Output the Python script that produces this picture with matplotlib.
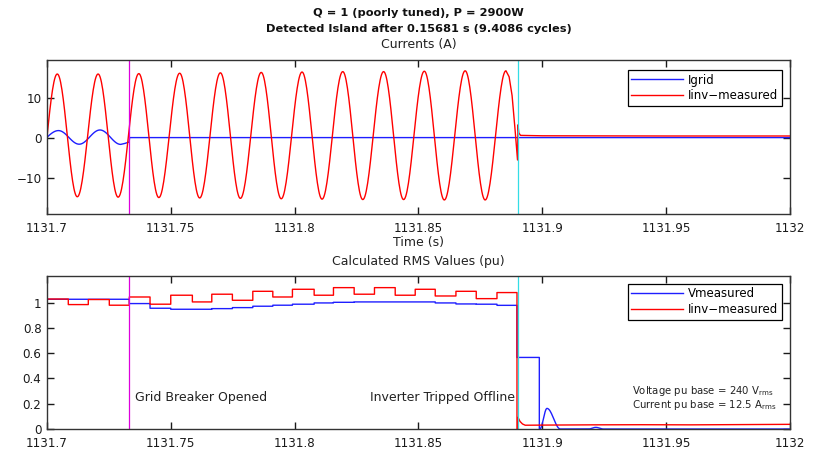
import numpy as np
import matplotlib
matplotlib.use("Agg")
import matplotlib.pyplot as plt

plt.rcParams['font.family'] = ['DejaVu Sans']

# ---------------- event times (s) ----------------
t_breaker = 1131.73325          # grid breaker opened
t_detect = 1131.89006           # island detected (breaker + 0.15681 s)

# ---------------- axis ticks ----------------
time_ticks = [1131.7, 1131.75, 1131.8, 1131.85, 1131.9, 1131.95, 1132.0]
time_labels = ["1131.7", "1131.75", "1131.8", "1131.85", "1131.9", "1131.95", "1132"]
cur_ticks = [-10, 0, 10]
rms_ticks = [0, 0.2, 0.4, 0.6, 0.8, 1.0]
rms_labels = ["0", "0.2", "0.4", "0.6", "0.8", "1"]

# ---------------- currents (A): inverter current extrema ----------------
iinv_ext_t = [1131.69596, 1131.70416, 1131.71224, 1131.72065, 1131.72873, 1131.73709,
              1131.74517, 1131.75358, 1131.76166, 1131.77002, 1131.77810, 1131.78651,
              1131.79459, 1131.80299, 1131.81107, 1131.81943, 1131.82752, 1131.83592,
              1131.84400, 1131.85236, 1131.86044, 1131.86885, 1131.87693, 1131.88533]
iinv_ext_v = [-14.8, 15.9, -14.8, 15.9, -14.9, 16.0,
              -15.0, 16.1, -15.1, 16.2, -15.2, 16.3,
              -15.3, 16.4, -15.4, 16.5, -15.5, 16.5,
              -15.5, 16.6, -15.6, 16.7, -15.6, 16.7]
# inverter current after its last peak (trip transient and residual)
iinv_tail_t = [1131.8866, 1131.8878, 1131.8890, 1131.8900, 1131.8902, 1131.8905,
               1131.8912, 1131.9000, 1131.9500, 1132.0]
iinv_tail_v = [15.2, 10.5, 2.0, -5.6, 3.2, 1.2, 0.55, 0.45, 0.4, 0.4]

# grid current extrema before the breaker opens
igrid_ext_t = [1131.69535, 1131.70465, 1131.71301, 1131.72141, 1131.72978]
igrid_ext_v = [-1.6, 1.75, -1.65, 1.9, -1.7]
igrid_tail_t = [1131.7315, 1131.7332, 1131.73335, 1132.0]
igrid_tail_v = [-1.45, -1.1, 0.0, 0.0]

# ---------------- half-cycle RMS values (pu) ----------------
rms_edges = [1131.7, 1131.70861, 1131.71669, 1131.72517, 1131.73325, 1131.74162,
             1131.74998, 1131.75871, 1131.76655, 1131.77487, 1131.78311, 1131.79119,
             1131.79911, 1131.80788, 1131.81568, 1131.82404, 1131.83224, 1131.84061,
             1131.84869, 1131.85677, 1131.86513, 1131.87333, 1131.88170, 1131.88978]
iinv_rms = [1.028, 0.984, 1.024, 0.979, 1.044, 0.987, 1.058, 1.005,
            1.066, 1.018, 1.089, 1.044, 1.105, 1.058, 1.118, 1.066,
            1.118, 1.058, 1.105, 1.052, 1.089, 1.031, 1.079]
vmeas_rms = [1.026, 1.026, 1.026, 1.026, 0.992, 0.955, 0.947, 0.947,
             0.952, 0.960, 0.971, 0.979, 0.987, 0.997, 1.002, 1.005,
             1.005, 1.005, 1.005, 0.997, 0.989, 0.987, 0.978]

# voltage RMS after the inverter trips
vmeas_tail_t = [1131.88978, 1131.8988, 1131.8988]
vmeas_tail_v = [0.566, 0.566, 0.0]
vmeas_bump_t = [1131.8990, 1131.9019, 1131.9073, 1131.9186, 1131.9216, 1131.9247]
vmeas_bump_v = [0.0, 0.163, 0.0, 0.0, 0.013, 0.0]
vmeas_end_t = [1132.0]
vmeas_end_v = [0.0]

# current RMS after the inverter trips
iinv_rms_tail_t = [1131.88978, 1131.8901, 1131.8902, 1131.8910, 1131.8920, 1131.8931,
                   1131.9000, 1131.9200, 1131.9400, 1131.9600, 1131.9800, 1132.0]
iinv_rms_tail_v = [0.0, 0.0, 0.092, 0.060, 0.040, 0.030,
                   0.031, 0.033, 0.034, 0.033, 0.035, 0.037]


def wave_through(ts, vs, n=30):
    """Smooth curve passing through successive extrema with half-cosine arcs."""
    xs, ys = [], []
    for i in range(len(ts) - 1):
        t0, t1 = ts[i], ts[i + 1]
        v0, v1 = vs[i], vs[i + 1]
        ph = np.linspace(0, np.pi, n, endpoint=False)
        xs.append(t0 + (t1 - t0) * ph / np.pi)
        ys.append((v0 + v1) / 2 + (v0 - v1) / 2 * np.cos(ph))
    xs.append([ts[-1]])
    ys.append([vs[-1]])
    return np.concatenate(xs), np.concatenate(ys)


def steps(edges, vals):
    x = np.repeat(np.asarray(edges), 2)[1:-1]
    y = np.repeat(np.asarray(vals), 2)
    return x, y


red = '#ff0000'
blue = '#1e1eff'
magenta = '#dd00dd'
cyan = '#33dde6'

fig = plt.figure(figsize=(8.21, 4.49), dpi=100)
ax1 = fig.add_axes([0.0572, 0.5234, 0.905, 0.343])
ax2 = fig.add_axes([0.0572, 0.0445, 0.905, 0.3408])

# ---- currents ----
gx, gy = wave_through(igrid_ext_t, igrid_ext_v)
gx = np.concatenate([gx, igrid_tail_t])
gy = np.concatenate([gy, igrid_tail_v])
ix, iy = wave_through(iinv_ext_t, iinv_ext_v)
ix = np.concatenate([ix, iinv_tail_t])
iy = np.concatenate([iy, iinv_tail_v])

ax1.plot(gx, gy, color=blue, lw=1.0, label='Igrid')
ax1.plot(ix, iy, color=red, lw=1.0, label='Iinv\u2212measured')
ax1.axvline(t_breaker, color=magenta, lw=0.9)
ax1.axvline(t_detect, color=cyan, lw=0.9)
ax1.set_xlim(1131.7, 1132.0)
ax1.set_ylim(-19.1, 19.4)
ax1.set_yticks(cur_ticks)
ax1.set_xticks(time_ticks)
ax1.set_xticklabels(time_labels)

# ---- RMS values ----
sx, sy = steps(rms_edges, vmeas_rms)
bx, by = wave_through(vmeas_bump_t, vmeas_bump_v)
vx = np.concatenate([sx, vmeas_tail_t, bx, vmeas_end_t])
vy = np.concatenate([sy, vmeas_tail_v, by, vmeas_end_v])
rx, ry = steps(rms_edges, iinv_rms)
rx = np.concatenate([rx, iinv_rms_tail_t])
ry = np.concatenate([ry, iinv_rms_tail_v])

ax2.plot(vx, vy, color=blue, lw=1.0, label='Vmeasured')
ax2.plot(rx, ry, color=red, lw=1.0, label='Iinv\u2212measured')
ax2.axvline(t_breaker, color=magenta, lw=0.9)
ax2.axvline(t_detect, color=cyan, lw=0.9)
ax2.set_xlim(1131.7, 1132.0)
ax2.set_ylim(0, 1.21)
ax2.set_yticks(rms_ticks)
ax2.set_yticklabels(rms_labels)
ax2.set_xticks(time_ticks)
ax2.set_xticklabels(time_labels)

for ax in (ax1, ax2):
    ax.tick_params(direction='in', length=5, width=1.0, top=True, right=True,
                   labelsize=8.6, colors='#1a1a1a')
    ax.tick_params(axis='y', pad=4)
    ax.tick_params(axis='x', pad=5.5)
    for s in ax.spines.values():
        s.set_color('#333333')
        s.set_linewidth(1.0)

leg_kw = dict(loc='upper right', fontsize=8.5, frameon=True, fancybox=False,
              edgecolor='black', framealpha=1.0, handlelength=4.4,
              handletextpad=0.4, labelspacing=0.25, borderpad=0.3,
              borderaxespad=0.0)
l1 = ax1.legend(bbox_to_anchor=(0.989, 0.935), **leg_kw)
l2 = ax2.legend(bbox_to_anchor=(0.989, 0.948), **leg_kw)
for lg in (l1, l2):
    lg.get_frame().set_linewidth(0.9)

# annotations
ax2.text(0.1184, 0.209, 'Grid Breaker Opened', transform=ax2.transAxes,
         fontsize=9, va='center', ha='left', color='#222222')
ax2.text(0.4347, 0.209, 'Inverter Tripped Offline', transform=ax2.transAxes,
         fontsize=9, va='center', ha='left', color='#222222')
ax2.text(0.788, 0.246, r'Voltage pu base = 240 V$_{\mathregular{rms}}$',
         transform=ax2.transAxes, fontsize=7.3, va='center', ha='left', color='#222222')
ax2.text(0.788, 0.160, r'Current pu base = 12.5 A$_{\mathregular{rms}}$',
         transform=ax2.transAxes, fontsize=7.3, va='center', ha='left', color='#222222')

# titles and labels
xc = 0.5097
fig.text(xc, 0.971, 'Q = 1 (poorly tuned), P = 2900W', ha='center', va='center',
         fontsize=8.2, fontweight='bold', color='#111111')
fig.text(xc, 0.9354, 'Detected Island after 0.15681 s (9.4086 cycles)', ha='center',
         va='center', fontsize=8.2, fontweight='bold', color='#111111')
fig.text(xc, 0.8998, 'Currents (A)', ha='center', va='center', fontsize=9, color='#222222')
fig.text(xc, 0.461, 'Time (s)', ha='center', va='center', fontsize=9, color='#222222')
fig.text(xc, 0.4165, 'Calculated RMS Values (pu)', ha='center', va='center',
         fontsize=9, color='#222222')

fig.savefig('out.png', dpi=100)
